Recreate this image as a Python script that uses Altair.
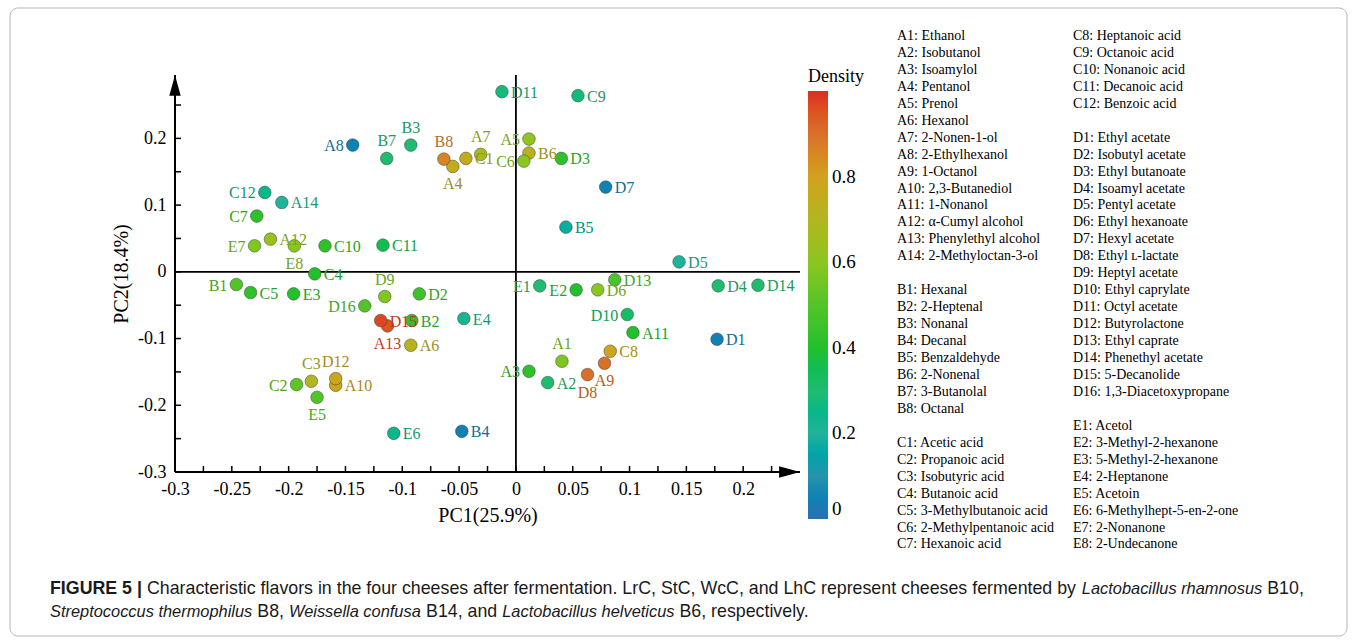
import altair as alt
import pandas as pd

# ---------------- data ----------------
labels = ["A1", "A2", "A3", "A4", "A5", "A6", "A7", "A8", "A9", "A10", "A11", "A12", "A13", "A14",
          "B1", "B2", "B3", "B4", "B5", "B6", "B7", "B8",
          "C1", "C2", "C3", "C4", "C5", "C6", "C7", "C8", "C9", "C10", "C11", "C12",
          "D1", "D2", "D3", "D4", "D5", "D6", "D7", "D8", "D9", "D10", "D11", "D12", "D13", "D14", "D15", "D16",
          "E1", "E2", "E3", "E4", "E5", "E6", "E7", "E8"]
pc1 = [0.0405, 0.028, 0.0115, -0.0555, 0.0115, -0.0925, -0.031, -0.1436, 0.078, -0.1586, 0.103, -0.216, -0.113, -0.206,
       -0.246, -0.0916, -0.0925, -0.0476, 0.044, 0.0115, -0.1137, -0.0634,
       -0.044, -0.193, -0.180, -0.177, -0.2335, 0.007, -0.228, 0.083, 0.0546, -0.168, -0.117, -0.221,
       0.177, -0.085, 0.040, 0.178, 0.1436, 0.072, 0.079, 0.063, -0.1154, 0.098, -0.0123, -0.1586, 0.087, 0.213, -0.119, -0.133,
       0.021, 0.053, -0.1956, -0.0458, -0.175, -0.1075, -0.230, -0.195]
pc2 = [-0.134, -0.166, -0.149, 0.158, 0.199, -0.110, 0.176, 0.190, -0.137, -0.170, -0.091, 0.049, -0.081, 0.104,
       -0.019, -0.073, 0.190, -0.239, 0.067, 0.178, 0.170, 0.169,
       0.170, -0.169, -0.164, -0.003, -0.031, 0.166, 0.0836, -0.119, 0.264, 0.039, 0.040, 0.119,
       -0.101, -0.033, 0.170, -0.021, 0.015, -0.027, 0.127, -0.154, -0.037, -0.064, 0.270, -0.160, -0.012, -0.020, -0.073, -0.051,
       -0.021, -0.027, -0.033, -0.070, -0.188, -0.242, 0.039, 0.039]
density = [0.58, 0.30, 0.42, 0.75, 0.62, 0.72, 0.66, 0.05, 0.90, 0.78, 0.40, 0.63, 0.95, 0.20,
           0.50, 0.42, 0.30, 0.05, 0.18, 0.72, 0.30, 0.86,
           0.75, 0.52, 0.70, 0.40, 0.42, 0.60, 0.42, 0.78, 0.28, 0.42, 0.35, 0.25,
           0.05, 0.45, 0.42, 0.30, 0.20, 0.60, 0.05, 0.90, 0.58, 0.32, 0.28, 0.78, 0.48, 0.30, 0.97, 0.50,
           0.30, 0.40, 0.40, 0.22, 0.50, 0.25, 0.58, 0.60]
placement = ["above", "right", "left", "below", "left", "right", "above", "left", "below", "right", "right", "right", "below", "right",
             "left", "right", "above", "right", "right", "right", "above", "above",
             "right", "left", "above", "right", "right", "left", "left", "right", "right", "right", "right", "left",
             "right", "right", "right", "right", "right", "right", "right", "below", "above", "left", "right", "above", "right", "right", "right", "left",
             "left", "left", "right", "right", "below", "right", "left", "below"]

names_a = ["Ethanol", "Isobutanol", "Isoamylol", "Pentanol", "Prenol", "Hexanol", "2-Nonen-1-ol", "2-Ethylhexanol",
           "1-Octanol", "2,3-Butanediol", "1-Nonanol", "α-Cumyl alcohol", "Phenylethyl alcohol", "2-Methyloctan-3-ol"]
names_b = ["Hexanal", "2-Heptenal", "Nonanal", "Decanal", "Benzaldehyde", "2-Nonenal", "3-Butanolal", "Octanal"]
names_c = ["Acetic acid", "Propanoic acid", "Isobutyric acid", "Butanoic acid", "3-Methylbutanoic acid",
           "2-Methylpentanoic acid", "Hexanoic acid", "Heptanoic acid", "Octanoic acid", "Nonanoic acid",
           "Decanoic acid", "Benzoic acid"]
names_d = ["Ethyl acetate", "Isobutyl acetate", "Ethyl butanoate", "Isoamyl acetate", "Pentyl acetate",
           "Ethyl hexanoate", "Hexyl acetate", "Ethyl ʟ-lactate", "Heptyl acetate", "Ethyl caprylate",
           "Octyl acetate", "Butyrolactone", "Ethyl caprate", "Phenethyl acetate", "5-Decanolide",
           "1,3-Diacetoxypropane"]
names_e = ["Acetol", "3-Methyl-2-hexanone", "5-Methyl-2-hexanone", "2-Heptanone", "Acetoin",
           "6-Methylhept-5-en-2-one", "2-Nonanone", "2-Undecanone"]

x_tick_values = [-0.275, -0.25, -0.225, -0.2, -0.175, -0.15, -0.125, -0.1, -0.075, -0.05, -0.025, 0,
                 0.025, 0.05, 0.075, 0.1, 0.125, 0.15, 0.175, 0.2, 0.225]
x_label_values = [-0.3, -0.25, -0.2, -0.15, -0.1, -0.05, 0, 0.05, 0.1, 0.15, 0.2]
y_tick_values = [-0.25, -0.2, -0.15, -0.1, -0.05, 0, 0.05, 0.1, 0.15, 0.2, 0.25]
y_label_values = [-0.3, -0.2, -0.1, 0, 0.1, 0.2]
density_ticks = [0, 0.2, 0.4, 0.6, 0.8]

caption_line1 = [("FIGURE 5 |", "bold", "normal"),
                 ("Characteristic flavors in the four cheeses after fermentation. LrC, StC, WcC, and LhC represent cheeses fermented by",
                  "normal", "normal"),
                 ("Lactobacillus rhamnosus", "normal", "italic"),
                 ("B10,", "normal", "normal")]
caption_line2 = [("Streptococcus thermophilus", "normal", "italic"),
                 ("B8,", "normal", "normal"),
                 ("Weissella confusa", "normal", "italic"),
                 ("B14, and", "normal", "normal"),
                 ("Lactobacillus helveticus", "normal", "italic"),
                 ("B6, respectively.", "normal", "normal")]

# ---------------- layout / style ----------------
SERIF = "Liberation Serif, Times New Roman, serif"
SANS = "Liberation Sans, Arial, sans-serif"
OX, OY = 175, 75          # plot origin on the page
W, H = 625, 397           # plot area
X_DOMAIN = [-0.3, 0.25]
Y_DOMAIN = [-0.3, 0.295]
CAP_SIZE = 17.8           # upright caption text
CAP_ITALIC_SIZE = 16.4    # the reference's italic face is narrower
CAP_X = 50
KEY_TOP = 35
KEY_STEP = 16.95

# Arial / Liberation Sans advance widths (per 1000 em), used to lay caption segments end to end
_W = {" ": 278, ",": 278, "-": 333, ".": 278, "|": 260, ":": 278}
_W.update({d: 556 for d in "0123456789"})
_W.update(dict(zip("ABCDEFGHIJKLMNOPQRSTUVWXYZ",
                   [667, 667, 722, 722, 667, 611, 778, 722, 278, 500, 667, 556, 833, 722, 778, 667, 778, 722,
                    667, 611, 722, 667, 944, 667, 667, 611])))
_W.update(dict(zip("abcdefghijklmnopqrstuvwxyz",
                   [556, 556, 500, 556, 556, 278, 556, 556, 222, 222, 500, 222, 833, 556, 556, 556, 556, 333,
                    500, 278, 556, 500, 722, 500, 500, 500])))
_WB = dict(_W)
_WB.update({" ": 278, "|": 280, "F": 611, "I": 278, "G": 778, "U": 722, "R": 722, "E": 667, "5": 556})


def text_width(s, size, bold=False):
    table = _WB if bold else _W
    return sum(table.get(ch, 556) for ch in s) * size / 1000.0


stops = [0, 0.1, 0.2, 0.3, 0.4, 0.5, 0.6, 0.7, 0.8, 0.9, 1.0]
point_colors = ["#2b6fb3", "#2693ad", "#20b39a", "#1fbb70", "#21c02c", "#52c42a",
                "#8ac620", "#b2b622", "#d2a11f", "#d9702a", "#dc2e20"]
label_colors = ["#245e98", "#1f7a91", "#1a9680", "#1a9a5e", "#1ea226", "#46a423",
                "#72a41a", "#93961c", "#b0861a", "#b85c22", "#b8261a"]

df = pd.DataFrame({"label": labels, "pc1": pc1, "pc2": pc2, "density": density, "pos": placement})

x_enc = alt.X("pc1:Q", scale=alt.Scale(domain=X_DOMAIN, nice=False, zero=False),
              axis=alt.Axis(title="PC1(25.9%)", values=x_label_values, labelExpr="'' + datum.value",
                            domain=False, ticks=False, grid=False, labelFont=SERIF, labelFontSize=18,
                            labelColor="black", labelPadding=8, labelFlush=False, labelOverlap=False,
                            titleFont=SERIF, titleFontSize=20, titleFontWeight="normal",
                            titleColor="black", titlePadding=7))
y_enc = alt.Y("pc2:Q", scale=alt.Scale(domain=Y_DOMAIN, nice=False, zero=False),
              axis=alt.Axis(title="PC2(18.4%)", values=y_label_values, labelExpr="'' + datum.value",
                            domain=False, ticks=False, grid=False, labelFont=SERIF, labelFontSize=18,
                            labelColor="black", labelPadding=9, labelFlush=False, labelOverlap=False,
                            titleFont=SERIF, titleFontSize=20, titleFontWeight="normal",
                            titleColor="black", titlePadding=6))

base = alt.Chart(df)

points = base.mark_circle(size=160, opacity=1, stroke="#3c3c3c", strokeWidth=0.6, strokeOpacity=0.8).encode(
    x=x_enc, y=y_enc,
    color=alt.Color("density:Q", scale=alt.Scale(domain=stops, range=point_colors),
                    legend=alt.Legend(title="Density", orient="none", legendX=633, legendY=-7,
                                      direction="vertical", gradientLength=428, gradientThickness=20,
                                      values=density_ticks,
                                      labelExpr="datum.value == 0 ? '0' : datum.label",
                                      labelFont=SERIF, labelFontSize=19,
                                      labelColor="black", labelOffset=4, titleFont=SERIF,
                                      titleFontSize=18, titleFontWeight="normal", titleColor="black",
                                      titlePadding=5, gradientStrokeWidth=0)))

offsets = {"right": dict(align="left", baseline="middle", dx=9, dy=1),
           "left": dict(align="right", baseline="middle", dx=-9, dy=1),
           "above": dict(align="center", baseline="middle", dx=0, dy=-17),
           "below": dict(align="center", baseline="middle", dx=0, dy=18)}

text_layers = []
for pos, kw in offsets.items():
    text_layers.append(
        base.transform_filter(alt.datum.pos == pos).mark_text(font=SERIF, fontSize=16, **kw).encode(
            x=x_enc, y=y_enc, text="label:N",
            fill=alt.Fill("density:Q", scale=alt.Scale(domain=stops, range=label_colors), legend=None)))

one = pd.DataFrame({"k": [0]})
axis_style = dict(color="black", strokeWidth=2)
left_axis = alt.Chart(one).mark_rule(**axis_style).encode(x=alt.datum(-0.3))
bottom_axis = alt.Chart(one).mark_rule(**axis_style).encode(y=alt.datum(-0.3))
v_zero = alt.Chart(one).mark_rule(color="black", strokeWidth=1.8).encode(x=alt.datum(0))
h_zero = alt.Chart(one).mark_rule(color="black", strokeWidth=1.8).encode(y=alt.datum(0))

xt = alt.Chart(pd.DataFrame({"v": x_tick_values})).mark_rule(color="black", strokeWidth=1.5).encode(
    x="v:Q", y=alt.value(H), y2=alt.value(H - 6))
yt = alt.Chart(pd.DataFrame({"v": y_tick_values})).mark_rule(color="black", strokeWidth=1.5).encode(
    y="v:Q", x=alt.value(0), x2=alt.value(6))

up_arrow = alt.Chart(pd.DataFrame({"x": [-0.3], "y": [Y_DOMAIN[1]]})).mark_point(
    shape="M0,0 L-0.6,2.2 L0.6,2.2 Z", filled=True, size=360, color="black", opacity=1).encode(x="x:Q", y="y:Q")
right_arrow = alt.Chart(pd.DataFrame({"x": [X_DOMAIN[1]], "y": [-0.3]})).mark_point(
    shape="M0,0 L-2.2,-0.6 L-2.2,0.6 Z", filled=True, size=360, color="black", opacity=1).encode(x="x:Q", y="y:Q")

# compound-name key: two columns, each made of blocks separated by one empty row
col1_blocks = [(0, [f"A{i+1}: {n}" for i, n in enumerate(names_a)]),
               (15, [f"B{i+1}: {n}" for i, n in enumerate(names_b)]),
               (24, [f"C{i+1}: {n}" for i, n in enumerate(names_c[:7])])]
col2_blocks = [(0, [f"C{i+8}: {n}" for i, n in enumerate(names_c[7:])]),
               (6, [f"D{i+1}: {n}" for i, n in enumerate(names_d)]),
               (23, [f"E{i+1}: {n}" for i, n in enumerate(names_e)])]

key_layers = []
for blocks, px in [(col1_blocks, 897), (col2_blocks, 1073)]:
    for row, lines in blocks:
        key_layers.append(alt.Chart(one).mark_text(
            text=lines, lineHeight=KEY_STEP, align="left", baseline="top",
            font=SERIF, fontSize=14, color="black").encode(
            x=alt.value(px - OX), y=alt.value(KEY_TOP - 6 + row * KEY_STEP - OY)))

caption_layers = []
for line, py in [(caption_line1, 589), (caption_line2, 612)]:
    cx = CAP_X
    for txt, weight, style in line:
        size = CAP_ITALIC_SIZE if style == "italic" else CAP_SIZE
        caption_layers.append(alt.Chart(one).mark_text(
            text=txt, align="left", baseline="middle", font=SANS, fontSize=size,
            fontWeight=weight, fontStyle=style, color="#1a1a1a").encode(
            x=alt.value(cx - OX), y=alt.value(py - OY)))
        cx += text_width(txt, size, bold=(weight == "bold")) + text_width(" ", CAP_SIZE)

frame = alt.Chart(one).mark_rect(fillOpacity=0, stroke="#b5b5b5", strokeWidth=1, cornerRadius=8).encode(
    x=alt.value(10 - OX), x2=alt.value(1347 - OX), y=alt.value(8 - OY), y2=alt.value(636 - OY))

chart = alt.layer(
    frame, v_zero, h_zero, left_axis, bottom_axis, xt, yt, up_arrow, right_arrow,
    points, *text_layers, *key_layers, *caption_layers
).resolve_scale(
    color="independent", fill="independent"
).properties(
    width=W, height=H,
    padding={"left": OX, "top": OY, "right": 1357 - OX - W, "bottom": 643 - OY - H},
    autosize=alt.AutoSizeParams(type="none"),
    background="white"
).configure_view(stroke=None)

chart.save("out.html", embed_options={"renderer": "svg", "actions": False})
